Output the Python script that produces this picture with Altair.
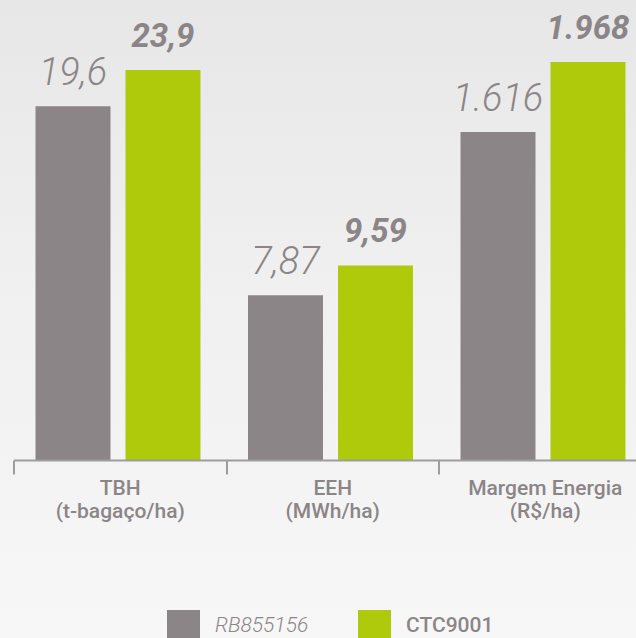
import altair as alt
import pandas as pd

# ---- data ----
categorias = ["TBH|(t-bagaço/ha)", "EEH|(MWh/ha)", "Margem Energia|(R$/ha)"]
variedades = ["RB855156", "CTC9001"]
valores_rb = [19.6, 7.87, 1616]
valores_ctc = [23.9, 9.59, 1968]
rotulos_rb = ["19,6", "7,87", "1.616"]
rotulos_ctc = ["23,9", "9,59", "1.968"]
# relative bar heights as drawn (tallest bar = 100)
altura_rb = [88.9, 41.4, 82.4]
altura_ctc = [98.0, 48.9, 100.0]
cores = ["#8b8587", "#afc90b"]

rows = []
for i, c in enumerate(categorias):
    rows.append({"categoria": c, "variedade": variedades[0], "valor": valores_rb[i],
                 "rotulo": rotulos_rb[i], "altura": altura_rb[i]})
    rows.append({"categoria": c, "variedade": variedades[1], "valor": valores_ctc[i],
                 "rotulo": rotulos_ctc[i], "altura": altura_ctc[i]})
df = pd.DataFrame(rows)
leg = pd.DataFrame({"variedade": variedades})
bg = pd.DataFrame({"a": [0]})

txt_color = "#8b8587"
font = "Roboto"

color = alt.Color("variedade:N", scale=alt.Scale(domain=variedades, range=cores), legend=None)

x = alt.X(
    "categoria:N",
    sort=categorias,
    scale=alt.Scale(domain=categorias, range=[0, 637.5], paddingInner=0, paddingOuter=0),
    axis=alt.Axis(
        title=None,
        labelExpr="split(datum.label, '|')",
        labelAngle=0,
        labelFont=font,
        labelFontSize=21,
        labelFontWeight=500,
        labelColor=txt_color,
        labelLineHeight=23,
        labelPadding=3,
        domainColor="#9d9d9d",
        domainWidth=2,
        tickColor="#9d9d9d",
        tickWidth=2,
        tickSize=14,
        tickBand="extent",
        grid=False,
        zindex=1,
    ),
)
xo = alt.XOffset("variedade:N", sort=variedades,
                 scale=alt.Scale(domain=variedades, paddingInner=0.1667,
                                 paddingOuter=0.264, align=0.463))
y = alt.Y("altura:Q", scale=alt.Scale(domain=[0, 115.6]), axis=None)

fundo = alt.Chart(bg).mark_rect(
    color=alt.Gradient(
        gradient="linear", x1=0, y1=0, x2=0, y2=1,
        stops=[alt.GradientStop(color="#e7e7e7", offset=0),
               alt.GradientStop(color="#f0f0f0", offset=0.45),
               alt.GradientStop(color="#f7f7f7", offset=1)],
    )
).encode(x=alt.value(-14), x2=alt.value(623), y=alt.value(0), y2=alt.value(640))

barras = alt.Chart(df).mark_bar().encode(x=x, xOffset=xo, y=y, color=color)

rot_rb = alt.Chart(df).transform_filter(alt.datum.variedade == variedades[0]).mark_text(
    font=font, fontSize=38, fontStyle="italic", fontWeight=300, color=txt_color,
    baseline="alphabetic", align="center", dy=-21
).encode(x=x, xOffset=xo, y=y, text="rotulo:N")

rot_ctc = alt.Chart(df).transform_filter(alt.datum.variedade == variedades[1]).mark_text(
    font=font, fontSize=33, fontStyle="italic", fontWeight="bold", color=txt_color,
    baseline="alphabetic", align="center", dy=-23
).encode(x=x, xOffset=xo, y=y, text="rotulo:N")

# custom legend
leg_sq_rb = alt.Chart(leg).transform_filter(alt.datum.variedade == variedades[0]).mark_square(
    size=1089, opacity=1, filled=True).encode(x=alt.value(170), y=alt.value(626.5), color=color)
leg_sq_ctc = alt.Chart(leg).transform_filter(alt.datum.variedade == variedades[1]).mark_square(
    size=1089, opacity=1, filled=True).encode(x=alt.value(361), y=alt.value(626.5), color=color)
leg_tx_rb = alt.Chart(leg).transform_filter(alt.datum.variedade == variedades[0]).mark_text(
    font=font, fontSize=21, fontStyle="italic", fontWeight=300, color=txt_color,
    align="left", baseline="alphabetic").encode(x=alt.value(201.5), y=alt.value(632), text="variedade:N")
leg_tx_ctc = alt.Chart(leg).transform_filter(alt.datum.variedade == variedades[1]).mark_text(
    font=font, fontSize=21, fontWeight=500, color=txt_color,
    align="left", baseline="alphabetic").encode(x=alt.value(392.5), y=alt.value(632), text="variedade:N")

chart = alt.layer(
    fundo, barras, rot_rb, rot_ctc, leg_sq_rb, leg_sq_ctc, leg_tx_rb, leg_tx_ctc
).properties(
    width=622.5,
    height=460,
    autosize=alt.AutoSizeParams(type="none"),
    padding={"left": 13.5, "top": 0, "right": 0, "bottom": 178},
    background="#f3f3f3",
).configure_view(stroke=None)

chart.save("out.html", embed_options={"renderer": "svg", "actions": False})
